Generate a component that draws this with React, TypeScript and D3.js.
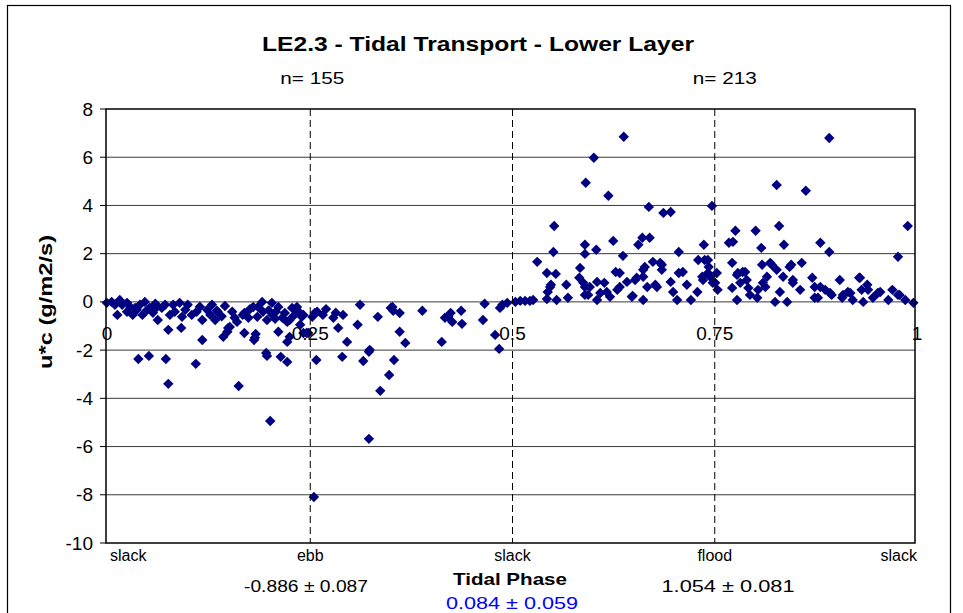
import React from "react";
import * as d3 from "d3";

// Ebb half (phase 0 - 0.5): [tidal phase, u*c (g/m2/s)]
const ebbPoints: [number, number][] = [
  [0.001, -0.04], [0.007, 0.0], [0.011, -0.12], [0.014, -0.54], [0.02, -0.12], [0.026, -0.04],
  [0.03, -0.21], [0.033, -0.54], [0.036, -0.25], [0.042, -0.12], [0.045, -0.54], [0.051, -0.33],
  [0.054, -0.25], [0.063, -0.21], [0.064, -0.75], [0.069, -0.25], [0.073, -0.12], [0.079, -0.54],
  [0.083, -0.12], [0.085, -0.41], [0.094, -0.62], [0.101, -0.12], [0.106, -0.54], [0.112, -0.41],
  [0.119, -0.75], [0.125, -0.33], [0.129, -0.54], [0.135, -0.75], [0.138, -0.41], [0.151, -1.08],
  [0.169, -0.54], [0.182, -0.21], [0.184, -1.49], [0.187, -0.62], [0.188, -0.21], [0.194, -0.41],
  [0.199, -0.75], [0.205, -0.04], [0.206, -0.54], [0.213, -0.21], [0.221, -0.46], [0.224, -0.83],
  [0.23, -0.25], [0.236, -0.21], [0.242, -0.62], [0.25, -1.29], [0.255, -0.62], [0.261, -0.41],
  [0.268, -0.54], [0.281, -0.66], [0.287, -1.08], [0.293, -0.54], [0.298, -1.66], [0.311, -0.95],
  [0.314, -0.12], [0.326, -1.99], [0.336, -0.62], [0.354, -0.21], [0.363, -0.46], [0.363, -1.24],
  [0.37, -1.7], [0.244, -0.54], [0.258, -0.46], [0.352, -0.25], [0.355, -0.37], [0.391, -0.37],
  [0.415, -1.66], [0.419, -0.66], [0.423, -0.62], [0.426, -0.46], [0.428, -0.83], [0.439, -0.37],
  [0.44, -0.91], [0.466, -0.75], [0.468, -0.08], [0.481, -1.37], [0.486, -1.95], [0.487, -0.25],
  [0.49, -0.12], [0.496, -0.04],
  [0.04, -2.37], [0.053, -2.24], [0.074, -2.37], [0.077, -3.4], [0.111, -2.57], [0.164, -3.49],
  [0.203, -4.94], [0.198, -2.12], [0.199, -2.24], [0.216, -2.28], [0.224, -2.49], [0.26, -2.41],
  [0.077, -1.16], [0.093, -1.08], [0.119, -1.58], [0.145, -1.45], [0.15, -1.24], [0.153, -1.04],
  [0.162, -0.83], [0.171, -0.46], [0.171, -1.29], [0.183, -1.58], [0.185, -1.33], [0.213, -1.24],
  [0.224, -1.66], [0.227, -1.45], [0.244, -1.29], [0.248, -1.29], [0.137, -0.37], [0.292, -2.28],
  [0.318, -2.45], [0.325, -2.07], [0.325, -5.68], [0.339, -3.69], [0.35, -3.03], [0.356, -2.41],
  [0.257, -8.09],
  [0.017, 0.08], [0.048, 0.0], [0.061, -0.08], [0.091, -0.04], [0.098, -0.33], [0.147, -0.17],
  [0.156, -0.41], [0.159, -0.66], [0.176, -0.66], [0.193, 0.0], [0.21, -0.41], [0.218, -0.66],
  [0.227, -0.75], [0.233, -0.54], [0.24, -0.95], [0.026, -0.41], [0.038, -0.33],
  [0.058, -0.45], [0.116, -0.2], [0.131, -0.12], [0.143, -0.6], [0.178, -0.3], [0.201, -0.35],
  [0.209, -0.7], [0.238, -0.4], [0.272, -0.3], [0.284, -0.45],
];

// Flood half (phase 0.5 - 1)
const floodPoints: [number, number][] = [
  [0.506, 0.0], [0.512, 0.04], [0.518, 0.04], [0.524, 0.04], [0.528, 0.08], [0.533, 1.66],
  [0.545, 1.2], [0.545, 0.12], [0.546, 0.41], [0.55, 0.71], [0.553, 2.07], [0.554, 3.15],
  [0.556, 1.16], [0.557, 0.08], [0.569, 0.71], [0.571, 0.17], [0.586, 1.41], [0.585, 1.0],
  [0.59, 0.79], [0.592, 2.37], [0.592, 1.99], [0.593, 4.94], [0.592, 0.29], [0.598, 0.62],
  [0.603, 5.98], [0.606, 2.16], [0.607, 0.83], [0.607, 0.08], [0.616, 0.79], [0.619, 0.41],
  [0.621, 4.4], [0.623, 0.21], [0.627, 2.53], [0.63, 1.24], [0.635, 1.2], [0.635, 0.62],
  [0.639, 1.91], [0.64, 6.85], [0.644, 0.83], [0.651, 0.25], [0.654, 0.91], [0.658, 2.37],
  [0.663, 2.66], [0.664, 1.04], [0.664, 0.08], [0.666, 1.45], [0.671, 3.94], [0.672, 2.66],
  [0.676, 1.66], [0.679, 0.71], [0.685, 1.62], [0.687, 1.33], [0.689, 3.69], [0.698, 3.73],
  [0.698, 0.83], [0.701, 0.41], [0.706, 0.08], [0.708, 2.07], [0.708, 1.2], [0.713, 1.24],
  [0.718, 0.71], [0.723, 0.08], [0.731, 0.41], [0.732, 1.74], [0.737, 1.04], [0.739, 2.37],
  [0.74, 1.74], [0.745, 1.45], [0.749, 3.98], [0.75, 0.79], [0.755, 1.2],
  [0.747, 1.04], [0.756, 0.5], [0.77, 2.45], [0.775, 2.49], [0.774, 1.62], [0.778, 2.95],
  [0.78, 1.12], [0.78, 0.08], [0.784, 0.79], [0.787, 1.24], [0.792, 0.91], [0.796, 0.29],
  [0.803, 2.95], [0.806, 0.5], [0.81, 2.24], [0.811, 1.54], [0.812, 0.79], [0.817, 1.04],
  [0.821, 1.62], [0.827, 0.0], [0.829, 4.85], [0.829, 1.33], [0.832, 3.15], [0.833, 0.41],
  [0.837, 1.04], [0.838, 2.37], [0.842, 0.0], [0.845, 1.45], [0.849, 0.91], [0.858, 0.5],
  [0.86, 1.62], [0.865, 4.61], [0.873, 1.0], [0.876, 0.62], [0.88, 0.17], [0.883, 2.45],
  [0.889, 0.5], [0.894, 2.07], [0.894, 6.8], [0.897, 0.29], [0.907, 0.91], [0.911, 0.29],
  [0.917, 0.41], [0.923, 0.08], [0.931, 1.0], [0.934, 0.5], [0.941, 0.71], [0.948, 0.17],
  [0.957, 0.41], [0.967, 0.08], [0.972, 0.5], [0.979, 1.87], [0.981, 0.29], [0.988, 0.08],
  [0.991, 3.15], [0.998, -0.04],
  [0.549, 0.62], [0.592, 0.62], [0.596, 0.29], [0.611, 0.37], [0.632, 0.5], [0.65, 0.21],
  [0.656, 1.0], [0.664, 1.33], [0.669, 0.62], [0.681, 0.62], [0.687, 1.54], [0.738, 0.91],
  [0.744, 1.74], [0.744, 1.2], [0.753, 0.79], [0.774, 0.58], [0.781, 1.2], [0.79, 1.24],
  [0.794, 0.58], [0.805, 0.17], [0.815, 0.62], [0.823, 1.54], [0.847, 1.54], [0.849, 0.79],
  [0.876, 0.17], [0.883, 0.62], [0.895, 0.37], [0.91, 0.17], [0.92, 0.37], [0.932, 1.0],
  [0.936, 0.0], [0.942, 0.5], [0.954, 0.37], [0.979, 0.29],
];

const yTicks = [8, 6, 4, 2, 0, -2, -4, -6, -8, -10];
const xTicks = [0, 0.25, 0.5, 0.75, 1];
const xTickLabels = ["0", "0.25", "0.5", "0.75", "1"];
const phaseMarks = [0.25, 0.5, 0.75];
const phaseNames = ["slack", "ebb", "slack", "flood", "slack"];
const phaseNamePos = [0, 0.25, 0.5, 0.75, 1];
const titleText = "LE2.3 - Tidal Transport - Lower Layer";
const countLabels = ["n= 155", "n= 213"];
const countPos = [0.25, 0.76];
const meanLabels = ["-0.886  \u00B1  0.087", "1.054  \u00B1  0.081"];
const overallLabel = "0.084 \u00B1  0.059";

const FONT = "'Liberation Sans', Arial, Helvetica, sans-serif";

export default function App() {
  const W = 963;
  const H = 613;
  const left = 106, right = 915, top = 109, bottom = 543;
  const x = d3.scaleLinear().domain([0, 1]).range([left, right]);
  const y = d3.scaleLinear().domain([-10, 8]).range([bottom, top]);
  const diamond = d3.symbol().type(d3.symbolSquare).size(54)() as string;
  const all = [...ebbPoints, ...floodPoints];

  const anchors = ["start", "middle", "middle", "middle", "end"];
  const nameDx = [4, 2, 2, 2, 2];

  return (
    <svg
      width={W}
      height={H}
      style={{ position: "absolute", left: 0, top: 0, background: "#fff" }}
      fontFamily={FONT}
    >
      <rect x={0} y={0} width={W} height={H} fill="#fff" />
      {/* outer chart frame */}
      <rect x={7.5} y={5.5} width={943} height={620} fill="none" stroke="#000" strokeWidth={1.2} />

      {/* title */}
      <text x={478} y={51} textAnchor="middle" fontSize={21} fontWeight="bold" textLength={432} lengthAdjust="spacingAndGlyphs">
        {titleText}
      </text>
      {countLabels.map((t, i) => (
        <text key={t} x={x(countPos[i]) + 4} y={84} textAnchor="middle" fontSize={17} textLength={64} lengthAdjust="spacingAndGlyphs">
          {t}
        </text>
      ))}

      {/* gridlines */}
      {yTicks.filter((v) => v !== 8 && v !== -10).map((v) => (
        <line key={v} x1={left} x2={right} y1={y(v)} y2={y(v)} stroke="#3a3a3a" strokeWidth={1} />
      ))}

      {/* data points */}
      <g fill="#000080">
        {all.map((d, i) => (
          <path key={i} d={diamond} transform={`translate(${x(d[0])},${y(d[1])}) rotate(45)`} />
        ))}
      </g>

      {/* phase dashed lines */}
      {phaseMarks.map((p) => (
        <line key={p} x1={x(p) + 2} x2={x(p) + 2} y1={top} y2={bottom} stroke="#000" strokeWidth={1} strokeDasharray="7,4" />
      ))}

      {/* plot frame */}
      <rect x={left} y={top} width={right - left} height={bottom - top} fill="none" stroke="#000" strokeWidth={1.5} />

      {/* y ticks & labels */}
      {yTicks.map((v) => (
        <g key={v}>
          <line x1={left - 6} x2={left} y1={y(v)} y2={y(v)} stroke="#000" strokeWidth={1} />
          <text x={left - 13} y={y(v) + 6.5} textAnchor="end" fontSize={19}>
            {v}
          </text>
        </g>
      ))}

      {/* x tick labels at zero crossing */}
      {xTicks.map((v, i) => (
        <text key={v} x={x(v) + (i === 0 ? 1 : 2)} y={y(0) + 38} textAnchor="middle" fontSize={19}>
          {xTickLabels[i]}
        </text>
      ))}

      {/* y axis title */}
      <text
        transform={`translate(52,${y(0)}) rotate(-90)`}
        textAnchor="middle"
        fontSize={18}
        fontWeight="bold"
        textLength={134}
        lengthAdjust="spacingAndGlyphs"
      >
        u*c (g/m2/s)
      </text>

      {/* phase names */}
      {phaseNames.map((t, i) => (
        <text key={i} x={x(phaseNamePos[i]) + nameDx[i]} y={561} textAnchor={anchors[i] as any} fontSize={16}>
          {t}
        </text>
      ))}

      {/* axis title and statistics */}
      <text x={510} y={585} textAnchor="middle" fontSize={17} fontWeight="bold" textLength={114} lengthAdjust="spacingAndGlyphs">
        Tidal Phase
      </text>
      <text x={306} y={592} textAnchor="middle" fontSize={17} textLength={124} lengthAdjust="spacingAndGlyphs">
        {meanLabels[0]}
      </text>
      <text x={728} y={592} textAnchor="middle" fontSize={17} textLength={133} lengthAdjust="spacingAndGlyphs">
        {meanLabels[1]}
      </text>
      <text x={512} y={609} textAnchor="middle" fontSize={17} fill="#0000ff" textLength={132} lengthAdjust="spacingAndGlyphs">
        {overallLabel}
      </text>
    </svg>
  );
}
